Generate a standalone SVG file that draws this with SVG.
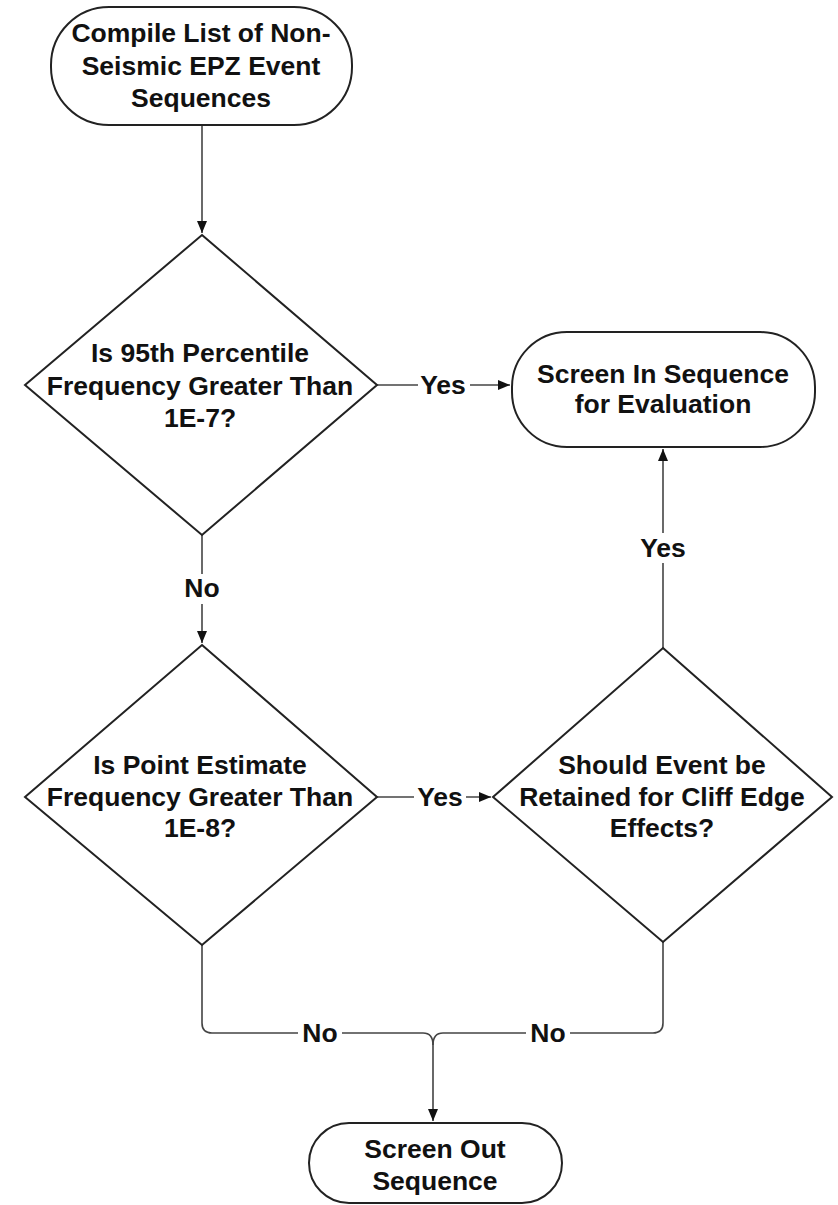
<svg xmlns="http://www.w3.org/2000/svg" width="838" height="1205" viewBox="0 0 838 1205">
<style>
.n{fill:#fff;stroke:#222;stroke-width:2}
.c{fill:none;stroke:#444;stroke-width:1.6}
.t{font-family:"Liberation Sans",Arial,sans-serif;font-size:26.5px;font-weight:bold;fill:#111;text-anchor:middle}
.l{font-family:"Liberation Sans",Arial,sans-serif;font-size:26.5px;font-weight:bold;fill:#111;text-anchor:middle}
.bg{fill:#fff}
</style>
<defs>
<marker id="a" viewBox="0 0 12 10" refX="12" refY="5" markerWidth="12" markerHeight="10" markerUnits="userSpaceOnUse" orient="auto">
<path d="M0,0 L12,5 L0,10 Z" fill="#111"/>
</marker>
</defs>
<rect width="838" height="1205" fill="#fff"/>
<g id="connectors">
<path class="c" d="M202,125 V233" marker-end="url(#a)"/>
<path class="c" d="M377,385 H510" marker-end="url(#a)"/>
<path class="c" d="M202,535 V643" marker-end="url(#a)"/>
<path class="c" d="M377,797 H491" marker-end="url(#a)"/>
<path class="c" d="M663,648 V449" marker-end="url(#a)"/>
<path class="c" d="M202,945 V1023 Q202,1033 212,1033 H423 Q433,1033 433,1045 V1121" marker-end="url(#a)"/>
<path class="c" d="M663,942 V1023 Q663,1033 653,1033 H443 Q433,1033 433,1045"/>
<rect class="bg" x="418" y="373" width="52" height="26"/>
<text class="l" x="443" y="394">Yes</text>
<rect class="bg" x="414" y="785" width="52" height="26"/>
<text class="l" x="440" y="806">Yes</text>
<rect class="bg" x="636" y="533" width="54" height="30"/>
<text class="l" x="663" y="557">Yes</text>
<rect class="bg" x="181" y="574" width="42" height="30"/>
<text class="l" x="202" y="597">No</text>
<rect class="bg" x="298" y="1020" width="44" height="28"/>
<text class="l" x="320" y="1042">No</text>
<rect class="bg" x="526" y="1020" width="44" height="28"/>
<text class="l" x="548" y="1042">No</text>
</g>
<g id="start">
<rect class="n" x="51" y="7" width="301" height="118" rx="58" ry="58"/>
<text class="t" x="201" y="42">Compile List of Non-</text>
<text class="t" x="201" y="75">Seismic EPZ Event</text>
<text class="t" x="201" y="107">Sequences</text>
</g>
<g id="d1">
<polygon class="n" points="202,235 377,385 202,535 25,385"/>
<text class="t" x="200" y="362">Is 95th Percentile</text>
<text class="t" x="200" y="395">Frequency Greater Than</text>
<text class="t" x="200" y="427">1E-7?</text>
</g>
<g id="screenin">
<rect class="n" x="512" y="332" width="303" height="115" rx="55" ry="55"/>
<text class="t" x="663" y="383">Screen In Sequence</text>
<text class="t" x="663" y="413">for Evaluation</text>
</g>
<g id="d2">
<polygon class="n" points="202,645 377,797 202,945 25,797"/>
<text class="t" x="200" y="774">Is Point Estimate</text>
<text class="t" x="200" y="806">Frequency Greater Than</text>
<text class="t" x="200" y="837">1E-8?</text>
</g>
<g id="d3">
<polygon class="n" points="663,648 832,797 663,942 493,797"/>
<text class="t" x="662" y="774">Should Event be</text>
<text class="t" x="662" y="806">Retained for Cliff Edge</text>
<text class="t" x="662" y="837">Effects?</text>
</g>
<g id="screenout">
<rect class="n" x="309" y="1123" width="253" height="80" rx="40" ry="40"/>
<text class="t" x="435" y="1158">Screen Out</text>
<text class="t" x="435" y="1190">Sequence</text>
</g>
</svg>
